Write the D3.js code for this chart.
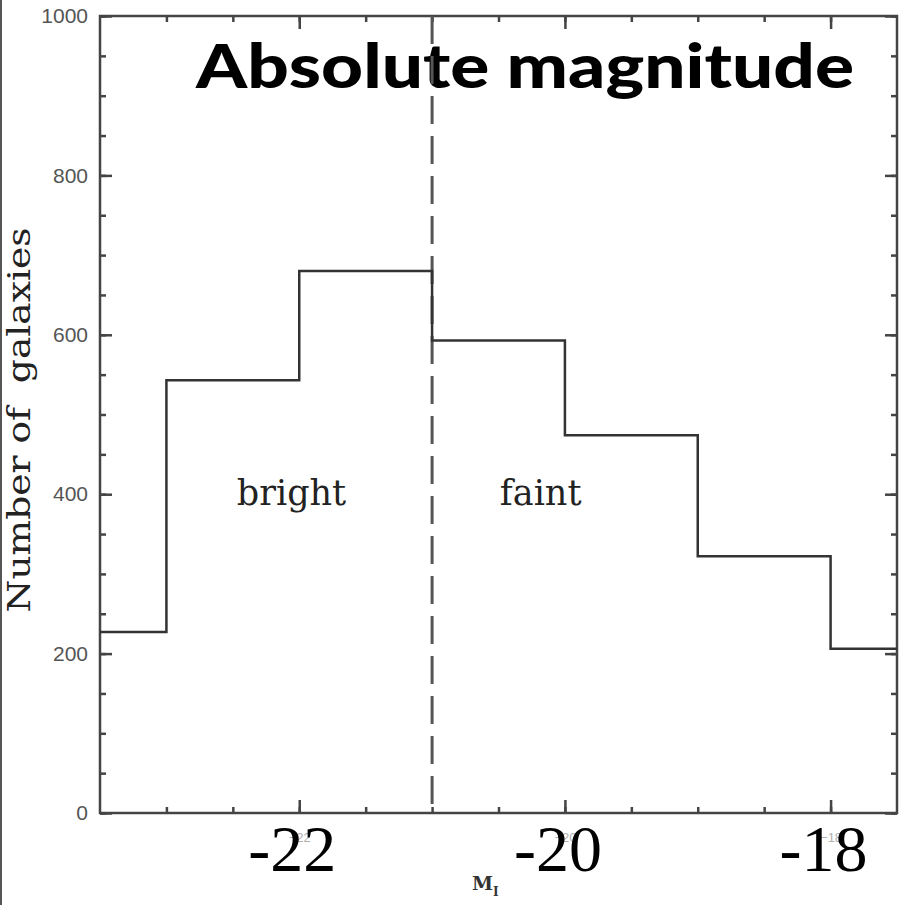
<!DOCTYPE html>
<html>
<head>
<meta charset="utf-8">
<script src="https://cdn.jsdelivr.net/npm/d3@7"></script>
<style>
  html, body { margin: 0; padding: 0; background: #fff; }
  svg { display: block; }
</style>
</head>
<body>
<svg id="chart" width="902" height="905"></svg>
<script>
// Histogram of galaxy absolute magnitudes (M_I), split into bright / faint at M = -21
const binEdges = [-23.5, -23, -22, -21, -20, -19, -18, -17.5];
const counts = [227, 543, 680, 593, 474, 322, 206];
const yMajorTicks = [0, 200, 400, 600, 800, 1000];
const yMinorTicks = d3.range(0, 1001, 50);
const xMajorTicks = [-22, -20, -18];
const xMinorTicks = d3.range(-23, -17.9, 0.5);
const bigTickLabels = ["-22", "-20", "-18"];
const splitMagnitude = -21;
const regionLabels = [
  { text: "bright", mag: -22.47 },
  { text: "faint", mag: -20.49 }
];

const svg = d3.select("#chart");
const plotLeft = 100, plotRight = 897, plotTop = 16, plotBottom = 813;

const x = d3.scaleLinear().domain([-23.5, -17.5]).range([plotLeft, plotRight]);
const y = d3.scaleLinear().domain([0, 1000]).range([plotBottom, plotTop]);

const axisColor = "#444";
const intFormat = d3.format("d");

// thin border at the left edge of the figure
svg.append("line")
  .attr("x1", 1).attr("x2", 1).attr("y1", 0).attr("y2", 905)
  .attr("stroke", "#555").attr("stroke-width", 2);

// title
svg.append("text")
  .attr("x", 196).attr("y", 88)
  .attr("font-family", "Lato, 'Open Sans', sans-serif")
  .attr("font-weight", 900)
  .attr("font-size", 60)
  .attr("textLength", 658)
  .attr("lengthAdjust", "spacingAndGlyphs")
  .attr("fill", "#000")
  .text("Absolute magnitude");

function styleAxis(g, labels) {
  g.select(".domain").remove();
  g.selectAll(".tick line").attr("stroke", axisColor).attr("stroke-width", 2.5);
  if (!labels) g.selectAll(".tick text").remove();
}

// left axis
svg.append("g").attr("transform", `translate(${plotLeft},0)`)
  .call(d3.axisLeft(y).tickValues(yMinorTicks).tickSize(-6).tickFormat(""))
  .call(g => styleAxis(g, false));
svg.append("g").attr("transform", `translate(${plotLeft},0)`)
  .call(d3.axisLeft(y).tickValues(yMajorTicks).tickSize(-12).tickPadding(12).tickFormat(intFormat))
  .call(g => {
    styleAxis(g, true);
    g.selectAll(".tick text")
      .attr("font-family", "'Liberation Sans', Arial, sans-serif")
      .attr("font-size", 21)
      .attr("fill", "#555");
  });

// right axis
svg.append("g").attr("transform", `translate(${plotRight},0)`)
  .call(d3.axisRight(y).tickValues(yMinorTicks).tickSize(-6))
  .call(g => styleAxis(g, false));
svg.append("g").attr("transform", `translate(${plotRight},0)`)
  .call(d3.axisRight(y).tickValues(yMajorTicks).tickSize(-12))
  .call(g => styleAxis(g, false));

// bottom axis
svg.append("g").attr("transform", `translate(0,${plotBottom})`)
  .call(d3.axisBottom(x).tickValues(xMinorTicks).tickSize(-6))
  .call(g => styleAxis(g, false));
svg.append("g").attr("transform", `translate(0,${plotBottom})`)
  .call(d3.axisBottom(x).tickValues(xMajorTicks).tickSize(-13).tickPadding(20).tickFormat(intFormat))
  .call(g => {
    styleAxis(g, true);
    g.selectAll(".tick text")
      .attr("font-family", "'Liberation Sans', Arial, sans-serif")
      .attr("font-size", 13)
      .attr("fill", "#b0b0b0");
  });

// top axis
svg.append("g").attr("transform", `translate(0,${plotTop})`)
  .call(d3.axisTop(x).tickValues(xMinorTicks).tickSize(-6))
  .call(g => styleAxis(g, false));
svg.append("g").attr("transform", `translate(0,${plotTop})`)
  .call(d3.axisTop(x).tickValues(xMajorTicks).tickSize(-13))
  .call(g => styleAxis(g, false));

// frame
svg.append("rect")
  .attr("x", plotLeft).attr("y", plotTop)
  .attr("width", plotRight - plotLeft).attr("height", plotBottom - plotTop)
  .attr("fill", "none").attr("stroke", axisColor).attr("stroke-width", 2.5);

// dividing line between bright and faint samples
svg.append("line")
  .attr("x1", x(splitMagnitude)).attr("x2", x(splitMagnitude))
  .attr("y1", y(1000)).attr("y2", y(0))
  .attr("stroke", "#555").attr("stroke-width", 3)
  .attr("stroke-dasharray", "28,12");

// histogram outline
const steps = [];
counts.forEach((c, i) => {
  steps.push([binEdges[i], c]);
  steps.push([binEdges[i + 1], c]);
});
svg.append("path")
  .datum(steps)
  .attr("d", d3.line().x(d => x(d[0])).y(d => y(d[1])))
  .attr("fill", "none")
  .attr("stroke", "#333")
  .attr("stroke-width", 2.5);

// region labels
svg.selectAll(".region")
  .data(regionLabels)
  .join("text")
  .attr("class", "region")
  .attr("x", d => x(d.mag))
  .attr("y", 505)
  .attr("font-family", "'DejaVu Serif', serif")
  .attr("font-size", 35)
  .attr("fill", "#222")
  .text(d => d.text);

// y axis title
svg.append("text")
  .attr("transform", "translate(30,420) rotate(-90)")
  .attr("text-anchor", "middle")
  .attr("font-family", "'DejaVu Serif', serif")
  .attr("font-size", 32)
  .attr("textLength", 385)
  .attr("lengthAdjust", "spacingAndGlyphs")
  .attr("fill", "#222")
  .style("white-space", "pre")
  .text("Number of  galaxies");

// x axis title M_I
const xt = svg.append("text")
  .attr("x", 472).attr("y", 890)
  .attr("font-family", "'DejaVu Serif', serif")
  .attr("font-weight", "bold")
  .attr("font-size", 19)
  .attr("fill", "#333");
xt.append("tspan").text("M");
xt.append("tspan").attr("font-size", 12).attr("dy", 6).text("I");

// large magnitude labels
svg.selectAll(".big")
  .data(xMajorTicks)
  .join("text")
  .attr("class", "big")
  .attr("x", d => x(d) - 7)
  .attr("y", 871)
  .attr("text-anchor", "middle")
  .attr("font-family", "'Liberation Serif', 'Times New Roman', serif")
  .attr("font-size", 66)
  .attr("fill", "#000")
  .text((d, i) => bigTickLabels[i]);
</script>
</body>
</html>
